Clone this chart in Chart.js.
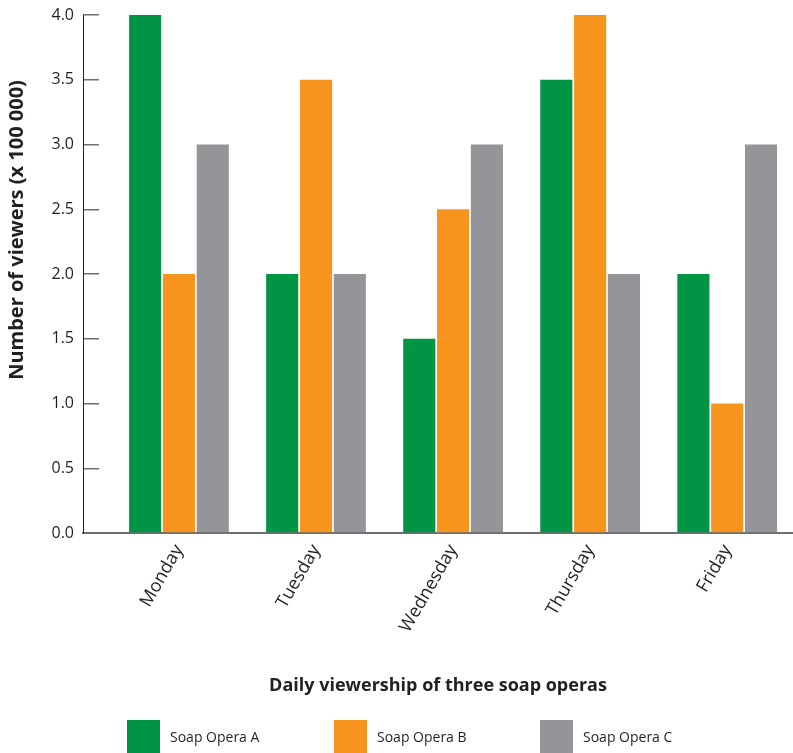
<!DOCTYPE html>
<html>
<head>
<meta charset="utf-8">
<script src="https://cdn.jsdelivr.net/npm/chart.js@4/dist/chart.umd.min.js"></script>
<style>
  html, body { margin: 0; padding: 0; background: #fff; overflow: hidden; }
  #wrap { position: relative; width: 793px; height: 753px; }
  #legend { position: absolute; left: 0; top: 720px; width: 793px; height: 33px; }
  .item { position: absolute; top: 0; height: 33px; display: flex; align-items: center;
          font-family: "Open Sans", sans-serif; font-size: 14px; color: #231f20; white-space: nowrap; }
  .swatch { width: 33px; height: 33px; margin-right: 10px; }
</style>
</head>
<body>
<div id="wrap">
  <canvas id="chart" width="793" height="753"></canvas>
  <div id="legend"></div>
</div>
<script>
// Viewers per day, in units of 100 000
const days = ['Monday', 'Tuesday', 'Wednesday', 'Thursday', 'Friday'];
const seriesNames = ['Soap Opera A', 'Soap Opera B', 'Soap Opera C'];
const operaA = [4.0, 2.0, 1.5, 3.5, 2.0];
const operaB = [2.0, 3.5, 2.5, 4.0, 1.0];
const operaC = [3.0, 2.0, 3.0, 2.0, 3.0];
const yTicks = [0, 0.5, 1.0, 1.5, 2.0, 2.5, 3.0, 3.5, 4.0];
const xTitle = 'Daily viewership of three soap operas';
const yTitle = 'Number of viewers (x 100 000)';

const colors = ['#009444', '#f7941d', '#939598'];
const textColor = '#231f20';
const fontFamily = '"Open Sans", sans-serif';

const seriesValues = [operaA, operaB, operaC];
const datasets = seriesNames.map((name, s) => ({
  label: name,
  data: days.map((d, i) => ({ x: i, y: seriesValues[s][i] })),
  backgroundColor: colors[s],
  borderWidth: 0,
  categoryPercentage: 0.74,
  barPercentage: 0.95
}));

// Rotated y axis title, placed beside the axis
const yTitlePlugin = {
  id: 'yTitle',
  afterDraw(chart) {
    const ctx = chart.ctx;
    ctx.save();
    ctx.translate(17, 230);
    ctx.rotate(-Math.PI / 2);
    ctx.font = 'bold 20px ' + fontFamily;
    ctx.fillStyle = textColor;
    ctx.textAlign = 'center';
    ctx.textBaseline = 'middle';
    ctx.fillText(yTitle, 0, 0);
    ctx.restore();
  }
};

const chart = new Chart(document.getElementById('chart'), {
  type: 'bar',
  data: { datasets },
  plugins: [yTitlePlugin],
  options: {
    responsive: false,
    animation: false,
    layout: { padding: { top: 15, right: 0, bottom: 52, left: 0 } },
    plugins: {
      legend: { display: false },
      tooltip: { enabled: false }
    },
    scales: {
      x: {
        type: 'linear',
        min: -0.7,
        max: 4.48,
        offset: false,
        afterBuildTicks: (scale) => { scale.ticks = days.map((d, i) => ({ value: i })); },
        afterFit: (scale) => { scale.height = 168; scale.paddingLeft = 0; scale.paddingRight = 0; },
        ticks: {
          callback: (v) => days[v],
          autoSkip: false,
          minRotation: 60,
          maxRotation: 60,
          padding: 8,
          color: textColor,
          font: { family: fontFamily, size: 18 }
        },
        grid: { display: false, drawTicks: false },
        border: { display: true, color: '#6d6e71', width: 2 },
        title: {
          display: true,
          text: xTitle,
          color: textColor,
          font: { family: fontFamily, size: 18, weight: 'bold' },
          padding: { top: 20, bottom: 4 }
        }
      },
      y: {
        min: 0,
        max: 4,
        afterBuildTicks: (scale) => { scale.ticks = yTicks.map((v) => ({ value: v })); },
        afterFit: (scale) => { scale.width = 83; scale.paddingTop = 0; scale.paddingBottom = 0; },
        ticks: {
          callback: (v) => v.toFixed(1),
          padding: 25,
          color: textColor,
          font: { family: fontFamily, size: 16 }
        },
        grid: { drawOnChartArea: false, tickLength: -16, color: '#6d6e71', lineWidth: 1.5 },
        border: { color: '#231f20', width: 1 }
      }
    }
  }
});

// Legend row under the chart, built from the datasets
const legendEl = document.getElementById('legend');
const legendLeft = [127, 334, 540];
chart.data.datasets.forEach((ds, i) => {
  const item = document.createElement('div');
  item.className = 'item';
  item.style.left = legendLeft[i] + 'px';
  const sw = document.createElement('span');
  sw.className = 'swatch';
  sw.style.background = ds.backgroundColor;
  const label = document.createElement('span');
  label.textContent = ds.label;
  item.appendChild(sw);
  item.appendChild(label);
  legendEl.appendChild(item);
});
</script>
</body>
</html>
